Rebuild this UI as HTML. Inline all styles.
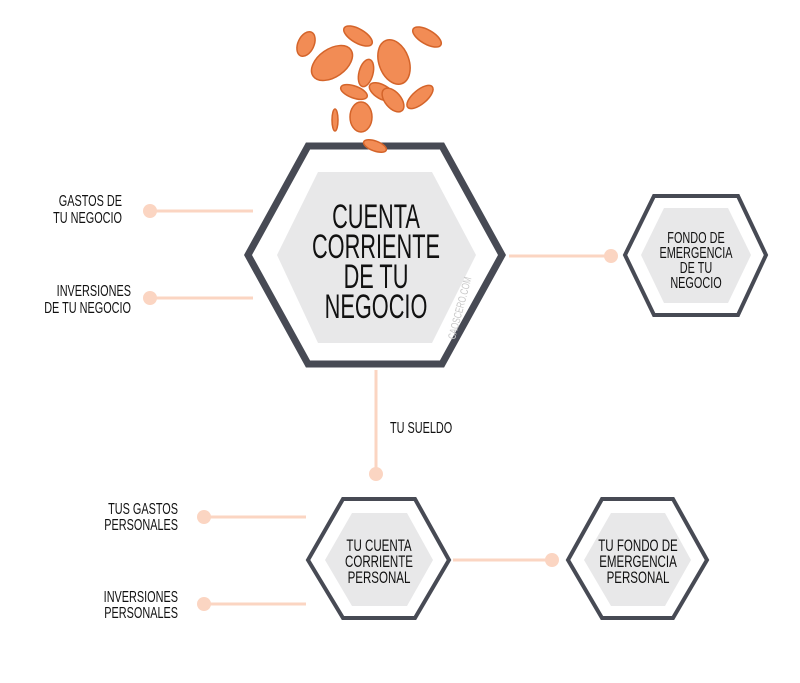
<!DOCTYPE html>
<html><head><meta charset="utf-8"><style>
html,body{margin:0;padding:0;background:#fff;}
svg text{font-family:"Liberation Sans","DejaVu Sans",sans-serif;fill:#111;}
</style></head><body>
<svg width="800" height="678" viewBox="0 0 800 678" xmlns="http://www.w3.org/2000/svg">
<g stroke="#fbd5c2" stroke-width="3" fill="#fbd5c2">
<line x1="150" y1="211" x2="253" y2="211"/><circle cx="150" cy="211" r="7" stroke="none"/>
<line x1="150" y1="298" x2="253" y2="298"/><circle cx="150" cy="298" r="7" stroke="none"/>
<line x1="509" y1="256" x2="611" y2="256"/><circle cx="611" cy="256" r="7" stroke="none"/>
<line x1="376" y1="370" x2="376" y2="474"/><circle cx="376" cy="474" r="7" stroke="none"/>
<line x1="204" y1="517" x2="306" y2="517"/><circle cx="204" cy="517" r="7" stroke="none"/>
<line x1="204" y1="604" x2="306" y2="604"/><circle cx="204" cy="604" r="7" stroke="none"/>
<line x1="453" y1="560" x2="552" y2="560"/><circle cx="552" cy="560" r="7" stroke="none"/>
</g>
<polygon points="248,255 308,146 442,146 502,255 442,364 308,364" fill="#fff" stroke="#474a54" stroke-width="7"/>
<polygon points="277,255 318,172 432,172 476,255 432,343 318,343" fill="#e8e8e9"/>
<g transform="translate(376,0) scale(0.64,1)" text-anchor="middle" font-size="34">
<text x="0" y="228">CUENTA</text><text x="0" y="258">CORRIENTE</text><text x="0" y="288">DE TU</text><text x="0" y="318">NEGOCIO</text>
</g>
<text transform="translate(455,340) rotate(-75) scale(0.7,1)" font-size="11" style="fill:#c8c8c8">CAOSCERO.COM</text>
<polygon points="625,255 654,196 738,196 766,255 738,315 654,315" fill="#fff" stroke="#474a54" stroke-width="4"/>
<polygon points="641,255 664,208 728,208 751,255 728,303 664,303" fill="#e8e8e9"/>
<g transform="translate(696,0) scale(0.68,1)" text-anchor="middle" font-size="16">
<text x="0" y="243">FONDO DE</text><text x="0" y="258">EMERGENCIA</text><text x="0" y="273">DE TU</text><text x="0" y="288">NEGOCIO</text>
</g>
<polygon points="308,560 343,499 415,499 449,560 415,618 343,618" fill="#fff" stroke="#474a54" stroke-width="4"/>
<polygon points="325,560 352,513 407,513 433,560 407,606 352,606" fill="#e8e8e9"/>
<g transform="translate(379,0) scale(0.68,1)" text-anchor="middle" font-size="17">
<text x="0" y="551">TU CUENTA</text><text x="0" y="567">CORRIENTE</text><text x="0" y="583">PERSONAL</text>
</g>
<polygon points="568,560 602,499 673,499 707,560 673,618 602,618" fill="#fff" stroke="#474a54" stroke-width="4"/>
<polygon points="584,560 611,513 665,513 691,560 665,606 611,606" fill="#e8e8e9"/>
<g transform="translate(638,0) scale(0.68,1)" text-anchor="middle" font-size="17">
<text x="0" y="551">TU FONDO DE</text><text x="0" y="567">EMERGENCIA</text><text x="0" y="583">PERSONAL</text>
</g>
<g font-size="16" text-anchor="end">
<g transform="translate(122,0) scale(0.68,1)"><text x="0" y="206">GASTOS DE</text><text x="0" y="223">TU NEGOCIO</text></g>
<g transform="translate(131,0) scale(0.68,1)"><text x="0" y="296">INVERSIONES</text><text x="0" y="313">DE TU NEGOCIO</text></g>
<g transform="translate(178,0) scale(0.68,1)"><text x="0" y="514">TUS GASTOS</text><text x="0" y="530">PERSONALES</text><text x="0" y="602">INVERSIONES</text><text x="0" y="618">PERSONALES</text></g>
</g>
<g transform="translate(390,0) scale(0.68,1)" font-size="16"><text x="0" y="433">TU SUELDO</text></g>
<g fill="#f28c55" stroke="#d4642a" stroke-width="1.5">
<ellipse cx="306" cy="44" rx="8" ry="13" transform="rotate(25 306 44)"/>
<ellipse cx="358" cy="36" rx="7" ry="16" transform="rotate(-60 358 36)"/>
<ellipse cx="427" cy="37" rx="7" ry="16" transform="rotate(-60 427 37)"/>
<ellipse cx="332" cy="63" rx="14" ry="23" transform="rotate(55 332 63)"/>
<ellipse cx="394" cy="62" rx="15" ry="23" transform="rotate(-20 394 62)"/>
<ellipse cx="366" cy="73" rx="7" ry="14" transform="rotate(15 366 73)"/>
<ellipse cx="382" cy="92" rx="7" ry="14" transform="rotate(-60 382 92)"/>
<ellipse cx="354" cy="92" rx="6" ry="14" transform="rotate(-70 354 92)"/>
<ellipse cx="420" cy="97" rx="7" ry="16" transform="rotate(50 420 97)"/>
<ellipse cx="393" cy="100" rx="8" ry="14" transform="rotate(-40 393 100)"/>
<ellipse cx="361" cy="117" rx="11" ry="15"/>
<ellipse cx="335" cy="120" rx="3" ry="11"/>
<ellipse cx="375" cy="146" rx="5" ry="12" transform="rotate(-70 375 146)"/>
</g>
</svg>
</body></html>
